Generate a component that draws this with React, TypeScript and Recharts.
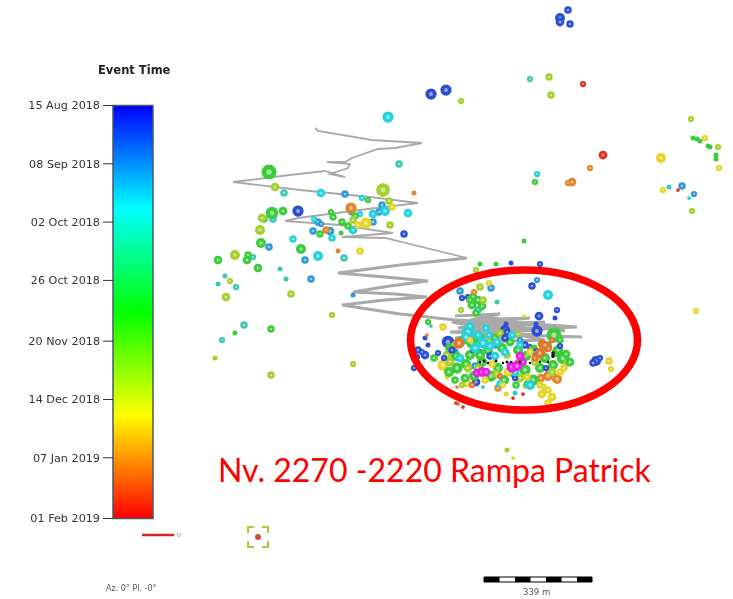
import React from 'react'
import { Bar, BarChart, ReferenceArea, ReferenceLine, Scatter, ScatterChart, XAxis, YAxis, ZAxis } from 'recharts'

const W = 733
const H = 599

// colour bar: days since the first event
const tickDays = [0, 24, 48, 72, 97, 121, 145, 170]
const tickLabels = ['15 Aug 2018', '08 Sep 2018', '02 Oct 2018', '26 Oct 2018', '20 Nov 2018', '14 Dec 2018', '07 Jan 2019', '01 Feb 2019']
const timeSpan = [{ name: 'time', days: 170 }]

// mine workings, [east, depth]
const rampUpper = [[315, 128], [318, 131], [372, 140], [422, 143], [395, 148], [378, 149], [352, 158], [345, 162], [327, 162], [350, 164], [348, 168], [330, 174], [345, 177], [325, 171], [290, 175], [233, 182], [300, 190], [370, 197], [418, 203], [360, 210], [298, 218], [285, 221], [340, 225], [393, 233], [342, 237], [385, 238], [467, 258]]
const rampLower = [[467, 258], [400, 265], [338, 273], [385, 277], [428, 281], [390, 286], [353, 292], [395, 294], [427, 297], [385, 300], [342, 305], [400, 314], [455, 320], [520, 323], [577, 327], [510, 330], [450, 332], [515, 335], [582, 337]]
const rampCluster = [[455, 316], [500, 314], [470, 320], [530, 318], [460, 325], [545, 322], [468, 330], [555, 328], [455, 338], [540, 334], [470, 342], [545, 340], [452, 322], [505, 320], [458, 328], [530, 328], [462, 334], [525, 326], [480, 316], [565, 331]]

const blue = [[568, 10, 3], [560, 18, 4], [560, 22, 3.5], [570, 24, 3], [431, 94, 4.5], [446, 90, 4.5], [298, 211, 4.5], [404, 234, 3], [540, 264, 2.5], [511, 263, 2], [532, 286, 3], [557, 310, 2.5], [539, 316, 3.5], [555, 318, 2], [462, 298, 2.5], [468, 297, 2.5], [425, 338, 2], [428, 345, 2], [418, 350, 3], [417, 357, 2.5], [425, 355, 3.5], [422, 352, 2.5], [414, 368, 2.5], [438, 353, 2.5], [448, 342, 5], [505, 330, 4], [507, 332, 3], [537, 331, 4.5], [506, 324, 2], [536, 324, 2], [476, 382, 3.5], [596, 361, 4], [600, 358, 2.5], [593, 363, 3], [480, 352, 2.5], [530, 347, 2.5]]
const azure = [[345, 194, 3], [382, 205, 3], [379, 212, 3], [318, 222, 3], [321, 224, 2.5], [351, 212, 2.5], [373, 222, 3], [313, 231, 3], [330, 231, 3.5], [269, 247, 3], [305, 260, 3], [311, 279, 3], [353, 295, 2], [682, 186, 3], [694, 194, 2.5], [460, 291, 3], [491, 288, 3], [537, 280, 2.5], [480, 308, 2.5], [455, 352, 3], [495, 345, 3], [520, 340, 2.5], [475, 366, 3]]
const cyan = [[388, 117, 4.5], [321, 193, 3.5], [362, 198, 2.5], [385, 211, 4], [373, 214, 3.5], [408, 213, 3.5], [273, 219, 3], [314, 219, 2.5], [360, 214, 2.5], [353, 230, 3.5], [332, 238, 3], [293, 239, 3], [318, 256, 4], [548, 295, 4], [537, 174, 2.5], [689, 198, 1.5], [478, 310, 3]]
const teal = [[399, 164, 3], [284, 193, 3], [344, 258, 3], [253, 257, 2.5], [280, 269, 2], [286, 279, 2], [225, 276, 2], [218, 284, 2], [236, 287, 2.5], [244, 325, 3], [222, 340, 2.5], [530, 79, 2.5], [669, 187, 2], [497, 302, 2], [431, 326, 1.5], [483, 387, 1.5], [515, 393, 2]]
const green = [[269, 172, 6], [368, 200, 2.5], [283, 211, 3.5], [272, 213, 5], [264, 219, 3], [331, 212, 2.5], [333, 217, 3], [342, 222, 3], [355, 216, 3], [348, 226, 3], [320, 234, 3], [341, 233, 2], [261, 243, 4], [301, 249, 4], [218, 260, 3.5], [248, 255, 3], [247, 260, 3.5], [258, 268, 3.5], [235, 333, 2], [271, 329, 3], [524, 241, 2], [480, 264, 2], [496, 264, 2], [535, 182, 2.5], [693, 138, 2], [697, 139, 2], [700, 141, 2], [708, 146, 2], [710, 147, 2], [716, 155, 2], [716, 159, 2], [473, 297, 3.5], [478, 300, 3.5], [472, 305, 3.5], [476, 313, 3], [482, 306, 3.5], [470, 300, 3], [428, 322, 2.5], [434, 358, 3], [554, 335, 6], [560, 340, 3], [563, 358, 5], [557, 352, 4]]
const lime = [[275, 187, 3.5], [383, 190, 5.5], [389, 201, 3], [262, 218, 3.5], [353, 220, 3], [390, 225, 3], [260, 230, 4], [235, 255, 4], [230, 281, 2.5], [226, 297, 3.5], [291, 294, 3], [332, 315, 2.5], [215, 358, 2], [271, 375, 3], [353, 364, 2.5], [507, 450, 2], [461, 101, 2.5], [549, 77, 3], [551, 95, 3], [691, 119, 2.5], [718, 147, 2.5], [692, 211, 2.5], [480, 287, 3], [483, 300, 3], [461, 310, 2.5], [476, 270, 2.5], [525, 386, 2], [567, 363, 3]]
const yellow = [[392, 207, 3], [358, 225, 3], [366, 223, 4.5], [360, 251, 3], [696, 311, 2.5], [661, 158, 4], [705, 138, 2.5], [719, 168, 2.5], [663, 190, 2.5], [489, 283, 2.5], [443, 327, 3], [443, 365, 4.5], [467, 383, 3.5], [506, 394, 2], [542, 394, 3.5], [548, 390, 3], [552, 397, 3.5], [544, 387, 2.5], [548, 403, 3], [447, 377, 2], [564, 368, 3], [537, 360, 3.5], [609, 361, 3], [611, 369, 2.5], [513, 458, 1.5], [524, 316, 1.5]]
const orange = [[414, 193, 2], [351, 208, 4.5], [326, 230, 3], [338, 251, 2], [590, 168, 2.5], [572, 182, 3.5], [568, 183, 2.5], [474, 292, 2.5], [427, 335, 1.5], [498, 388, 3], [557, 379, 4], [548, 376, 4], [541, 378, 3.5], [457, 387, 1.5], [458, 404, 1.5]]
const red = [[583, 84, 2.5], [603, 155, 3.5], [678, 190, 1.5], [513, 398, 1.5], [523, 394, 1.5], [463, 407, 1.5], [456, 403, 1.5]]

// the dense cloud inside the red ring
const clusterBlue = [[452, 350, 3], [490, 356, 3], [505, 338, 3], [525, 345, 3], [535, 352, 3], [473, 350, 2.5], [515, 378, 2.5], [546, 368, 2.5], [560, 346, 2.5], [444, 358, 2.5]]
const clusterGreen = [[450, 348, 4], [456, 356, 4], [463, 340, 4], [472, 343, 4.5], [480, 338, 4], [488, 350, 4], [495, 338, 3.5], [502, 348, 4], [510, 342, 3.5], [518, 350, 4], [526, 356, 4], [534, 349, 3.5], [545, 358, 4], [553, 365, 4], [558, 350, 4], [566, 354, 3.5], [570, 362, 3.5], [449, 372, 4], [457, 368, 4.5], [466, 364, 4], [474, 376, 4], [482, 362, 4], [491, 376, 4.5], [498, 368, 4], [504, 380, 4], [514, 373, 4], [525, 370, 4.5], [533, 380, 4.5], [540, 368, 4], [528, 384, 3.5], [516, 385, 3], [465, 378, 3.5], [455, 380, 3], [548, 345, 3], [470, 355, 4], [480, 355, 4]]
const clusterLime = [[447, 355, 3.5], [455, 345, 3], [468, 368, 3.5], [478, 368, 3], [488, 342, 3], [497, 374, 3.5], [507, 355, 3], [520, 378, 3.5], [535, 362, 3], [552, 372, 3.5], [543, 350, 3], [450, 362, 3.5], [500, 333, 3], [518, 334, 2.5], [462, 385, 2.5]]
const clusterCyan = [[468, 332, 5], [466, 337, 4], [475, 348, 4], [483, 343, 4.5], [478, 335, 3.5], [490, 346, 3.5], [497, 342, 3.5], [505, 352, 3.5], [520, 345, 3], [460, 358, 3.5], [495, 356, 3.5], [470, 326, 3.5], [486, 328, 3], [515, 372, 3.5], [530, 385, 4], [500, 384, 3], [512, 335, 3], [489, 335, 3]]
const clusterYellow = [[530, 352, 3], [492, 364, 3], [508, 372, 3.5], [527, 377, 3], [560, 372, 3], [470, 340, 2.5], [485, 380, 3], [503, 385, 2.5], [540, 385, 3]]
const clusterOrange = [[548, 348, 3.5], [542, 344, 3.5], [535, 358, 3], [552, 340, 2.5], [540, 353, 4], [545, 345, 3.5], [459, 343, 4.5], [500, 376, 2.5], [518, 362, 2.5], [472, 385, 2.5]]
const magenta = [[477, 373, 3.5], [482, 372, 4], [486, 372, 3.5], [512, 367, 4.5], [517, 366, 4], [520, 356, 3.5], [523, 362, 3]]
const black = [[480, 362, 1], [484, 361, 1.2], [488, 363, 1], [496, 361, 1.2], [503, 363, 1], [507, 362, 1.2], [511, 362, 1], [520, 362, 1.2], [530, 363, 1], [540, 362, 1], [548, 362, 1], [553, 356, 1.5], [553, 353, 1.5]]

const bands = [
  { name: 'blue', rows: blue, color: '#2b4fd0' },
  { name: 'azure', rows: azure, color: '#2f9ad8' },
  { name: 'cyan', rows: cyan, color: '#25d2dc' },
  { name: 'teal', rows: teal, color: '#3cc8b0' },
  { name: 'green', rows: green, color: '#3ccb3c' },
  { name: 'lime', rows: lime, color: '#a4cf2c' },
  { name: 'yellow', rows: yellow, color: '#e6d428' },
  { name: 'orange', rows: orange, color: '#e0862c' },
  { name: 'red', rows: red, color: '#e0321e' },
  { name: 'clusterGreen', rows: clusterGreen, color: '#3ccb3c' },
  { name: 'clusterLime', rows: clusterLime, color: '#a4cf2c' },
  { name: 'clusterBlue', rows: clusterBlue, color: '#2b4fd0' },
  { name: 'clusterCyan', rows: clusterCyan, color: '#25d2dc' },
  { name: 'clusterYellow', rows: clusterYellow, color: '#e6d428' },
  { name: 'clusterOrange', rows: clusterOrange, color: '#e0762c' },
  { name: 'magenta', rows: magenta, color: '#e81ee0' },
  { name: 'black', rows: black, color: '#111111' }
]

const ramps = [
  { name: 'upper', rows: rampUpper, width: 1.8 },
  { name: 'lower', rows: rampLower, width: 2.8 },
  { name: 'cluster', rows: rampCluster, width: 3.2 }
]

const ringAnchor = [{ x: 524, y: 340 }]
const scaleStops = [484, 499.5, 515, 530.5, 546, 561.5, 577, 592]

const toPoints = (rows: number[][]) => rows.map(([x, y, z]) => ({ x, y, z }))

const ringDot = (color: string) => (props: any) => {
  const { cx, cy, size } = props
  return (
    <g>
      <circle cx={cx} cy={cy} r={size} fill={color} />
      {size > 2.5 && <circle cx={cx} cy={cy} r={size * 0.35} fill="#ffffff" fillOpacity={0.5} />}
    </g>
  )
}

const label = (left: number, top: number, text: string, style: React.CSSProperties) => (
  <div style={{ position: 'absolute', left, top, whiteSpace: 'nowrap', ...style }}>{text}</div>
)

const ColorBar = () => (
  <BarChart
    width={170}
    height={H}
    data={timeSpan}
    barCategoryGap={0}
    margin={{ top: 105.5, right: 17, bottom: 80.5, left: 0 }}
    style={{ position: 'absolute', left: 0, top: 0 }}
  >
    <defs>
      <linearGradient id="eventTime" x1="0" y1="0" x2="0" y2="1">
        <stop offset="0" stopColor="#0000ff" />
        <stop offset="0.25" stopColor="#00ffff" />
        <stop offset="0.5" stopColor="#00ff00" />
        <stop offset="0.75" stopColor="#ffff00" />
        <stop offset="1" stopColor="#ff0000" />
      </linearGradient>
    </defs>
    <XAxis dataKey="name" hide />
    <YAxis
      type="number"
      reversed
      width={113}
      domain={[0, 170]}
      ticks={tickDays}
      interval={0}
      axisLine={false}
      tickSize={10}
      tickMargin={3}
      tick={{ fontFamily: 'DejaVu Sans', fontSize: 11.2, fill: '#333333' }}
      tickLine={{ stroke: '#333333' }}
      tickFormatter={(d: number) => tickLabels[tickDays.indexOf(d)]}
    />
    <Bar dataKey="days" fill="url(#eventTime)" stroke="#4a5a66" strokeWidth={1.5} isAnimationActive={false} />
  </BarChart>
)

const Events = () => (
  <ScatterChart width={W} height={H} margin={{ top: 0, right: 0, bottom: 0, left: 0 }}>
    <XAxis type="number" dataKey="x" domain={[0, W]} hide />
    <YAxis type="number" dataKey="y" domain={[0, H]} reversed hide />
    <ZAxis type="number" dataKey="z" domain={[0, 10]} range={[0, 12.5]} />
    {ramps.map(r => (
      <Scatter
        key={r.name}
        data={toPoints(r.rows)}
        line={{ stroke: '#a9a9a9', strokeWidth: r.width }}
        shape={() => <g />}
        isAnimationActive={false}
      />
    ))}
    {bands.map(b => (
      <Scatter key={b.name} data={toPoints(b.rows)} shape={ringDot(b.color)} isAnimationActive={false} />
    ))}
    <ReferenceLine segment={[{ x: 142, y: 535 }, { x: 174, y: 535 }]} stroke="#e02020" strokeWidth={2.5} />
    <ReferenceArea
      x1={248}
      x2={268}
      y1={527}
      y2={547}
      shape={(p: any) => {
        const { x, y, width: w, height: h } = p
        const c = 6
        return (
          <g fill="none" stroke="#b4c832" strokeWidth={2}>
            <path d={`M${x} ${y + c}V${y}H${x + c}`} />
            <path d={`M${x + w - c} ${y}H${x + w}V${y + c}`} />
            <path d={`M${x} ${y + h - c}V${y + h}H${x + c}`} />
            <path d={`M${x + w - c} ${y + h}H${x + w}V${y + h - c}`} />
            <circle cx={x + w / 2} cy={y + h / 2} r={3} fill="#c8503c" stroke="none" />
          </g>
        )
      }}
    />
    <ReferenceArea x1={484} x2={592} y1={577} y2={582} fill="#ffffff" fillOpacity={1} stroke="#000000" />
    {scaleStops.slice(0, -1).filter((_, i) => i % 2 === 0).map((s, i) => (
      <ReferenceArea key={s} x1={s} x2={scaleStops[i * 2 + 1]} y1={577} y2={582} fill="#000000" fillOpacity={1} />
    ))}
  </ScatterChart>
)

const Overlay = () => (
  <ScatterChart width={W} height={H} margin={{ top: 0, right: 0, bottom: 0, left: 0 }} style={{ position: 'absolute', left: 0, top: 0 }}>
    <XAxis type="number" dataKey="x" domain={[0, W]} hide />
    <YAxis type="number" dataKey="y" domain={[0, H]} reversed hide />
    <Scatter data={ringAnchor} shape={() => <g />} isAnimationActive={false} />
    <ReferenceArea
      x1={410.5}
      x2={637.5}
      y1={270}
      y2={410}
      shape={(p: any) => (
        <ellipse
          cx={p.x + p.width / 2}
          cy={p.y + p.height / 2}
          rx={p.width / 2}
          ry={p.height / 2}
          fill="none"
          stroke="#ff0000"
          strokeWidth={7.5}
        />
      )}
    />
  </ScatterChart>
)

export default function App() {
  return (
    <div style={{ position: 'absolute', left: 0, top: 0, width: W, height: H, background: '#fff', overflow: 'hidden' }}>
      <div style={{ position: 'absolute', left: 0, top: 0, filter: 'blur(0.7px)' }}>
        <Events />
        {label(106, 584, 'Az. 0° Pl. -0°', { fontFamily: 'DejaVu Sans', fontSize: 8, color: '#555' })}
        {label(523, 587, '339 m', { fontFamily: 'DejaVu Sans', fontSize: 8.5, color: '#555' })}
        {label(177, 531, 'tr', { fontFamily: 'DejaVu Sans', fontSize: 6, color: '#888' })}
      </div>
      <div style={{ position: 'absolute', left: 0, top: 0, filter: 'blur(0.3px)' }}>
        <ColorBar />
        {label(98, 63, 'Event Time', { fontFamily: 'DejaVu Sans', fontSize: 11.5, fontWeight: 700, color: '#222' })}
      </div>
      <Overlay />
      {label(218, 449, 'Nv. 2270 -2220 Rampa Patrick', { fontFamily: 'Lato', fontSize: 32, color: '#ff0000', lineHeight: '42px' })}
    </div>
  )
}
